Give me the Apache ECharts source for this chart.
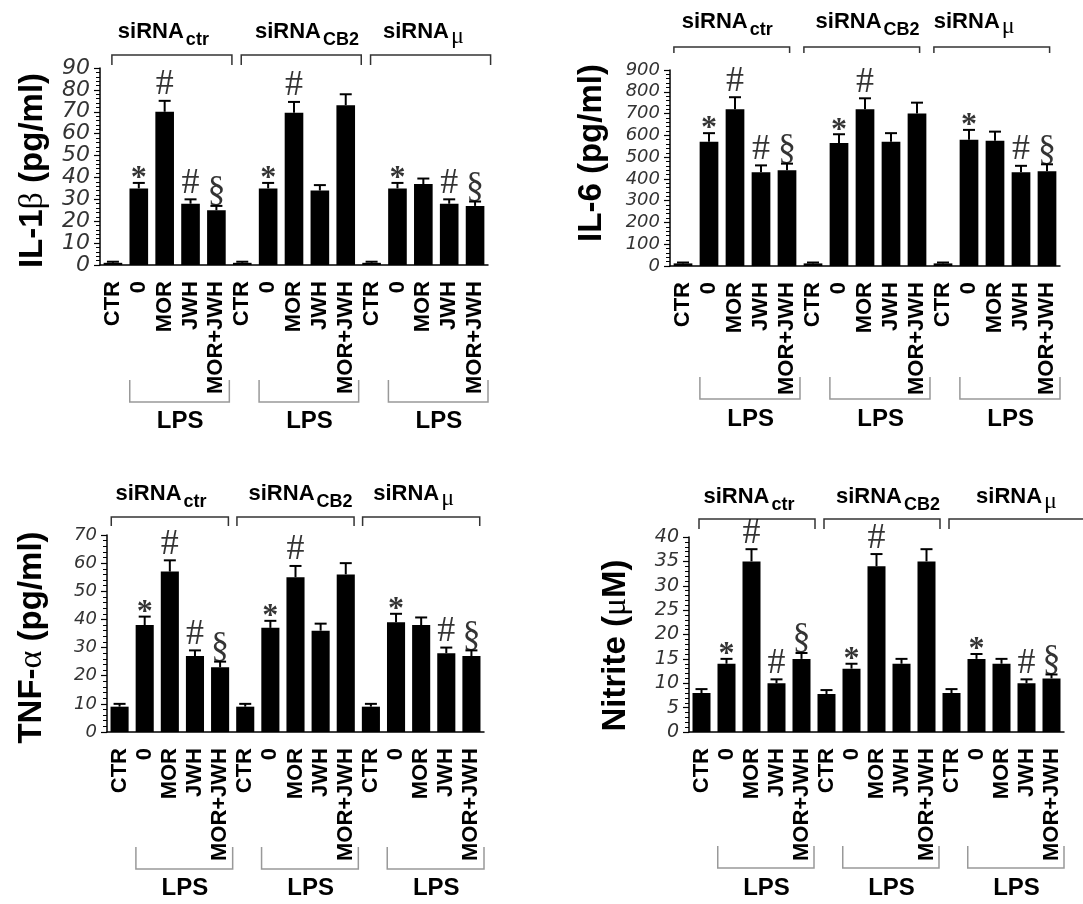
<!DOCTYPE html>
<html>
<head>
<meta charset="utf-8">
<script src="https://cdn.jsdelivr.net/npm/echarts@6/dist/echarts.min.js"></script>
<style>
  html, body { margin: 0; background: #fff; }
  #chart { width: 1083px; height: 904px; }
</style>
</head>
<body>
<div id="chart"></div>
<script>
// categories (same for every panel)
const categories = ['CTR', '0', 'MOR', 'JWH', 'MOR+JWH', 'CTR', '0', 'MOR', 'JWH', 'MOR+JWH', 'CTR', '0', 'MOR', 'JWH', 'MOR+JWH'];
const groupNames = ['ctr', 'CB2', 'μ'];

// IL-1beta (pg/ml)
const il1b    = [1, 35, 70, 28, 25,  1, 35, 69.5, 34, 73,  1, 35, 37, 28, 27];
const il1bErr = [0.5, 2.5, 5, 2, 2,  0.5, 2.5, 5, 2.5, 5,  0.5, 2.5, 2.5, 2, 2];
// IL-6 (pg/ml)
const il6     = [12, 570, 720, 430, 440,  12, 565, 720, 570, 700,  12, 580, 575, 430, 435];
const il6Err  = [4, 40, 55, 32, 30,  4, 40, 50, 40, 50,  4, 45, 42, 30, 32];
// TNF-alpha (pg/ml)
const tnf     = [9, 38, 57, 27, 23,  9, 37, 55, 36, 56,  9, 39, 38, 28, 27];
const tnfErr  = [1, 3, 4, 2, 2,  1, 2.5, 4, 2.5, 4,  1, 3, 2.7, 2, 2];
// Nitrite (uM)
const nitrite    = [8, 14, 35, 10, 15,  7.8, 13, 34, 14, 35,  8, 15, 14, 10, 11];
const nitriteErr = [0.8, 1, 2.5, 0.8, 1.2,  0.8, 1, 2.5, 1, 2.5,  0.8, 1, 1, 0.8, 0.8];

// significance marks, same pattern in all four panels
const sigMarks = ['', '*', '#', '#', '§',  '', '*', '#', '', '',  '', '*', '', '#', '§'];

const yMax      = [90, 900, 70, 40];
const yInterval = [10, 100, 10, 5];
const yNames = ['IL-1{g|β} (pg/ml)', 'IL-6 (pg/ml)', 'TNF-{g|α} (pg/ml)', 'Nitrite ({g|μ}M)'];

// layout of each panel (pixels / category units)
const panels = [
  { data: il1b, err: il1bErr, grid: { left: 100, top: 68, width: 388, height: 197 }, nameGap: 50, namePad: [0, 8, 0, 0], tickFont: 22,
    headBase: 40, headU: [2.45, 8.0, 12.5], brkY: 55, brkLeg: 10, brkS: 0.46, brkE: 5.1, lpsY: 402, lpsText: 421 },
  { data: il6, err: il6Err, grid: { left: 670, top: 70, width: 390, height: 196 }, nameGap: 62, namePad: [0, 0, 0, 30], tickFont: 18,
    headBase: 30, headU: [2.2, 7.6, 11.7], brkY: 47, brkLeg: 6, brkS: 0.15, brkE: 4.6, lpsY: 399, lpsText: 419 },
  { data: tnf, err: tnfErr, grid: { left: 107, top: 535, width: 377, height: 197 }, nameGap: 58, namePad: [0, 8, 0, 0], tickFont: 18,
    headBase: 502, headU: [2.15, 7.7, 12.2], brkY: 517, brkLeg: 9, brkS: 0.17, brkE: 4.83, lpsY: 869, lpsText: 888 },
  { data: nitrite, err: nitriteErr, grid: { left: 689, top: 537, width: 375, height: 195 }, nameGap: 56, namePad: [0, 22, 0, 0], tickFont: 19,
    headBase: 505, headU: [2.4, 7.96, 13.1], brkY: 519, brkLeg: 10, brkS: 0.4, brkE: 5.04, lpsY: 868, lpsText: 888, lastEnd: 16.2 }
];

const chart = echarts.init(document.getElementById('chart'), null, { renderer: 'canvas' });

const grids = [], xAxes = [], yAxes = [], series = [];
panels.forEach((p, i) => {
  grids.push(Object.assign({ containLabel: false, outerBoundsMode: 'none' }, p.grid));
  xAxes.push({
    type: 'category', gridIndex: i, data: categories,
    axisLine: { lineStyle: { color: '#000', width: 1.5 } },
    axisTick: { interval: 0, length: 8, lineStyle: { color: '#000', width: 1.5 } },
    axisLabel: { interval: 0, rotate: 90, margin: 16, color: '#000', fontFamily: 'Liberation Sans', fontWeight: 'bold', fontSize: 22 }
  });
  yAxes.push({
    type: 'value', gridIndex: i, min: 0, max: yMax[i], interval: yInterval[i],
    name: yNames[i], nameLocation: 'middle', nameRotate: 90, nameGap: p.nameGap,
    nameTextStyle: {
      color: '#000', fontFamily: 'Liberation Sans', fontWeight: 'bold', fontSize: 33, padding: p.namePad,
      rich: { g: { fontFamily: 'Liberation Serif', fontWeight: 'normal', fontSize: 34, color: '#000' } }
    },
    axisLine: { show: true, lineStyle: { color: '#000', width: 1.5 } },
    axisTick: { show: true, length: 6, lineStyle: { color: '#000', width: 1.2 } },
    minorTick: { show: true, splitNumber: 5, length: 4, lineStyle: { color: '#000', width: 1 } },
    splitLine: { show: false },
    axisLabel: { margin: 10, color: '#333', fontFamily: 'DejaVu Sans', fontStyle: 'italic', fontSize: p.tickFont }
  });
  series.push({
    type: 'bar', xAxisIndex: i, yAxisIndex: i, data: p.data,
    barCategoryGap: '28%', itemStyle: { color: '#000' }, silent: true
  });
  series.push({
    type: 'custom', xAxisIndex: i, yAxisIndex: i, z: 3,
    data: p.data.map((v, k) => [k, v, p.err[k]]),
    renderItem: (params, api) => {
      const top = api.coord([api.value(0), api.value(1) + api.value(2)]);
      const base = api.coord([api.value(0), api.value(1)]);
      return {
        type: 'group',
        children: [
          { type: 'line', shape: { x1: top[0], y1: base[1], x2: top[0], y2: top[1] }, style: { stroke: '#000', lineWidth: 2 } },
          { type: 'line', shape: { x1: top[0] - 6, y1: top[1], x2: top[0] + 6, y2: top[1] }, style: { stroke: '#000', lineWidth: 2 } }
        ]
      };
    }
  });
  series.push({
    type: 'scatter', xAxisIndex: i, yAxisIndex: i, symbolSize: 0, z: 4,
    data: sigMarks.map((s, k) => s ? {
      name: s, value: [k, p.data[k] + p.err[k]],
      label: s === '*' ? { offset: [0, 14], fontWeight: 'bold', fontSize: 32 } : (s === '§' ? { offset: [0, 5] } : { offset: [0, 4] })
    } : null).filter(d => d),
    label: {
      show: true, position: 'top', distance: 2, formatter: d => d.name,
      color: '#000', fontFamily: 'Liberation Serif', fontSize: 36
    }
  });
});

chart.setOption({
  animation: false,
  backgroundColor: '#fff',
  grid: grids, xAxis: xAxes, yAxis: yAxes, series: series
});

// brackets and group labels, placed in category units of each x axis
const graphics = [];
panels.forEach((p, i) => {
  const c0 = chart.convertToPixel({ xAxisIndex: i }, 0);
  const c1 = chart.convertToPixel({ xAxisIndex: i }, 1);
  const w = c1 - c0;
  const ux = u => c0 - w / 2 + u * w;
  for (let g = 0; g < 3; g++) {
    const x0 = ux(g * 5 + p.brkS);
    const x1 = (g === 2 && p.lastEnd) ? ux(p.lastEnd) : ux(g * 5 + p.brkE);
    graphics.push({
      type: 'polyline', silent: true,
      shape: { points: [[x0, p.brkY + p.brkLeg], [x0, p.brkY], [x1, p.brkY], [x1, p.brkY + p.brkLeg]] },
      style: { stroke: '#333', lineWidth: 1.5, fill: null }
    });
    graphics.push({
      type: 'text', silent: true, x: ux(p.headU[g]), y: p.headBase + 9,
      style: {
        text: '{a|siRNA}{' + (g === 2 ? 'm' : 's') + '|' + groupNames[g] + '}',
        align: 'center', verticalAlign: 'bottom',
        rich: {
          a: { fontFamily: 'Liberation Sans', fontWeight: 'bold', fontSize: 22, fill: '#000', verticalAlign: 'bottom', lineHeight: 22, padding: [0, 2, 6, 0] },
          s: { fontFamily: 'Liberation Sans', fontWeight: 'bold', fontSize: 18, fill: '#000', verticalAlign: 'bottom', lineHeight: 18 },
          m: { fontFamily: 'Liberation Serif', fontSize: 24, fill: '#000', verticalAlign: 'bottom', lineHeight: 21 }
        }
      }
    });
    // LPS brackets under the treated bars
    const l0 = ux(g * 5 + 1.15), l1 = ux(g * 5 + 5);
    graphics.push({
      type: 'polyline', silent: true,
      shape: { points: [[l0, p.lpsY - 22], [l0, p.lpsY], [l1, p.lpsY], [l1, p.lpsY - 22]] },
      style: { stroke: '#999', lineWidth: 1.5, fill: null }
    });
    graphics.push({
      type: 'text', silent: true, x: ux(g * 5 + 3.1), y: p.lpsText,
      style: { text: 'LPS', align: 'center', verticalAlign: 'middle', fontFamily: 'Liberation Sans', fontWeight: 'bold', fontSize: 24, fill: '#000' }
    });
  }
});
chart.setOption({ graphic: graphics });
</script>
</body>
</html>
